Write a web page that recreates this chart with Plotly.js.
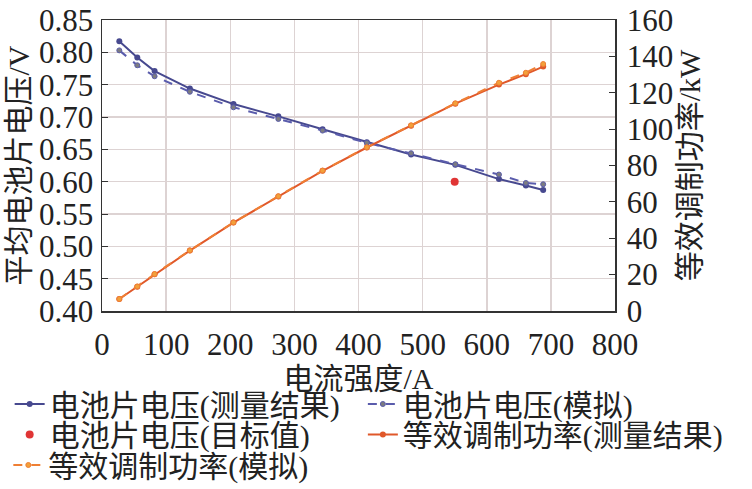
<!DOCTYPE html>
<html>
<head>
<meta charset="utf-8">
<script src="https://cdn.plot.ly/plotly-3.0.1.min.js"></script>
<style>html,body{margin:0;padding:0;background:#fff;}#chart{width:752px;height:489px;}</style>
</head>
<body>
<div id="chart"></div>
<script>
// ---- data ----
var current = [27, 55, 82, 137, 205, 275, 344, 413, 482, 551, 619, 661, 688];
var voltMeasured = [0.817, 0.792, 0.771, 0.744, 0.720, 0.701, 0.681, 0.661, 0.642, 0.626, 0.604, 0.594, 0.587];
var voltSimulated = [0.803, 0.780, 0.763, 0.739, 0.715, 0.697, 0.679, 0.660, 0.644, 0.627, 0.611, 0.598, 0.596];
var targetCurrent = [550];
var targetVolt = [0.60];
var powerMeasured = [6.6, 13.4, 20.2, 33.2, 48.6, 63.0, 77.1, 89.9, 101.9, 114.0, 124.5, 130.2, 134.4];
var powerSimulated = [6.6, 13.5, 20.3, 33.3, 48.7, 63.1, 77.2, 90.0, 102.1, 114.2, 125.5, 131.0, 135.8];
var seriesNames = ['电池片电压(测量结果)', '电池片电压(模拟)', '电池片电压(目标值)', '等效调制功率(测量结果)', '等效调制功率(模拟)'];
var xTitle = '电流强度/A';
var yTitle = '平均电池片电压/V';
var y2Title = '等效调制功率/kW';

var FONT = 'Liberation Serif, Noto Sans CJK SC, serif';
var BLUE = '#47498f', ORANGE = '#e0582a', ORANGE2 = '#ef7f34';

var traces = [
  {x: current, y: voltMeasured, name: seriesNames[0], mode: 'lines+markers', legend: 'legend',
   line: {color: BLUE, width: 2}, marker: {color: BLUE, size: 6}},
  {x: current, y: voltSimulated, name: seriesNames[1], mode: 'lines+markers', legend: 'legend2',
   line: {color: '#5a5cac', width: 2, dash: 'dash'}, marker: {color: '#7c7c80', size: 5, line: {color: '#5a5cac', width: 1}}},
  {x: targetCurrent, y: targetVolt, name: seriesNames[2], mode: 'markers', legend: 'legend3',
   marker: {color: '#e03535', size: 8}},
  {x: current, y: powerMeasured, name: seriesNames[3], mode: 'lines+markers', yaxis: 'y2', legend: 'legend4',
   line: {color: ORANGE, width: 2}, marker: {color: ORANGE, size: 6}},
  {x: current, y: powerSimulated, name: seriesNames[4], mode: 'lines+markers', yaxis: 'y2', legend: 'legend5',
   line: {color: ORANGE2, width: 2, dash: 'dash'}, marker: {color: '#f2a03a', size: 5, line: {color: ORANGE2, width: 1}}}
];

function leg(x, y) {
  return {x: x, y: y, xanchor: 'left', yanchor: 'middle', bgcolor: 'rgba(0,0,0,0)', borderwidth: 0,
          font: {family: FONT, size: 30, color: '#222'}, itemwidth: 30};
}

var layout = {
  width: 752, height: 489,
  margin: {l: 102, r: 137, t: 20, b: 178, pad: 0, autoexpand: false},
  paper_bgcolor: '#fff', plot_bgcolor: '#fff',
  showlegend: true,
  xaxis: {range: [0, 800], dtick: 100, showgrid: true, gridcolor: '#ddd3d3', gridwidth: 1.5,
          zeroline: false, showline: true, linecolor: '#333', linewidth: 1.5, mirror: true, ticks: '',
          tickfont: {family: FONT, size: 31, color: '#222'}, ticklabelstandoff: 5,
          title: {text: xTitle, font: {family: FONT, size: 30, color: '#222'}, standoff: 0}},
  yaxis: {range: [0.40, 0.85], dtick: 0.05, tickformat: '.2f', showgrid: true, gridcolor: '#ddd3d3', gridwidth: 1.5,
          zeroline: false, showline: true, linecolor: '#333', linewidth: 1.5, ticks: 'inside', ticklen: 6, tickcolor: '#333',
          tickfont: {family: FONT, size: 31, color: '#222'}, ticklabelstandoff: 1,
          title: {text: yTitle, font: {family: FONT, size: 30, color: '#222'}, standoff: 0}},
  yaxis2: {range: [0, 160], dtick: 20, overlaying: 'y', side: 'right', showgrid: false, zeroline: false,
           showline: true, linecolor: '#333', linewidth: 1.5, ticks: 'inside', ticklen: 6, tickcolor: '#333',
           tickfont: {family: FONT, size: 31, color: '#222'}, ticklabelstandoff: 4,
           title: {text: y2Title, font: {family: FONT, size: 30, color: '#222'}, standoff: 4}},
  legend: leg(-0.18, -0.3196),
  legend2: leg(0.5085, -0.3196),
  legend3: leg(-0.18, -0.4244),
  legend4: leg(0.5085, -0.4244),
  legend5: leg(-0.1826, -0.5292)
};

Plotly.newPlot('chart', traces, layout, {displayModeBar: false, staticPlot: true});
</script>
</body>
</html>
